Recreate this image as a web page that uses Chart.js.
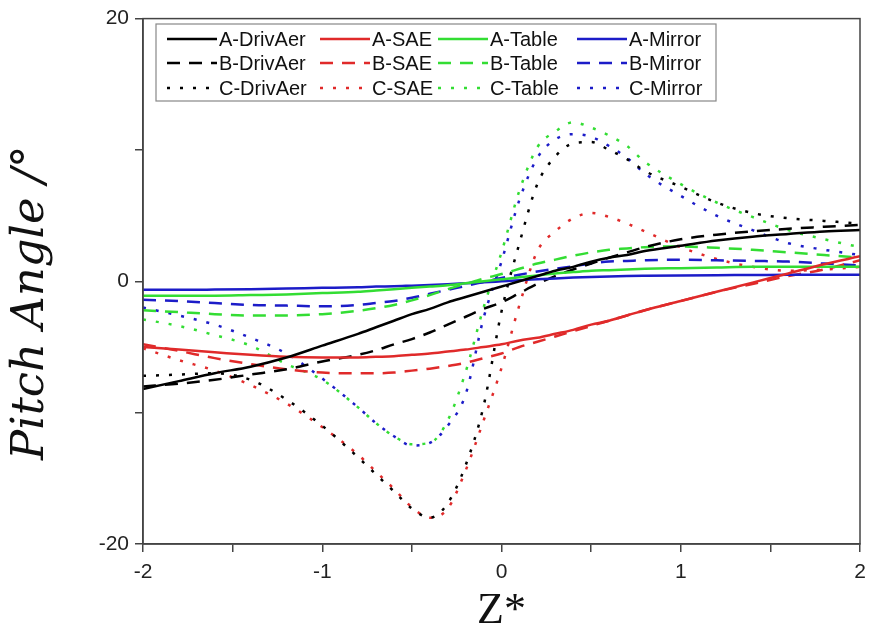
<!DOCTYPE html>
<html>
<head>
<meta charset="utf-8">
<script src="https://cdn.jsdelivr.net/npm/chart.js@4.4.0/dist/chart.umd.min.js"></script>
<style>
  body { margin: 0; background: #fff; }
  #wrap { width: 874px; height: 641px; }
</style>
</head>
<body>
<div id="wrap"><canvas id="pitchChart"></canvas></div>
<script>
// z* positions (shared by all series)
const zStar = [-2, -1.8, -1.6, -1.4, -1.2, -1, -0.8, -0.7, -0.6, -0.5, -0.4, -0.3, -0.2, -0.1, 0,
               0.1, 0.2, 0.3, 0.4, 0.5, 0.6, 0.7, 0.8, 1, 1.2, 1.4, 1.6, 1.8, 2];

// pitch angle, case A (solid)
const aDrivAer = [-8.2, -7.6, -7.0, -6.5, -5.8, -4.9, -4.0, -3.5, -3.0, -2.5, -2.1, -1.6, -1.2, -0.8, -0.4,
                  0.0, 0.4, 0.8, 1.1, 1.5, 1.8, 2.0, 2.3, 2.7, 3.1, 3.4, 3.6, 3.8, 3.9];
const aSAE     = [-5.0, -5.2, -5.4, -5.6, -5.75, -5.8, -5.8, -5.75, -5.7, -5.6, -5.5, -5.35, -5.2, -5.0, -4.8,
                  -4.5, -4.3, -4.0, -3.7, -3.3, -3.0, -2.6, -2.2, -1.5, -0.8, -0.1, 0.6, 1.3, 1.9];
const aTable   = [-1.1, -1.1, -1.1, -1.05, -1.0, -0.9, -0.8, -0.7, -0.6, -0.5, -0.4, -0.3, -0.15, 0.0, 0.15,
                  0.3, 0.45, 0.6, 0.7, 0.8, 0.85, 0.9, 0.95, 1.0, 1.05, 1.1, 1.1, 1.1, 1.1];
const aMirror  = [-0.65, -0.65, -0.63, -0.6, -0.55, -0.5, -0.45, -0.4, -0.38, -0.33, -0.28, -0.22, -0.15, -0.08, 0.0,
                  0.08, 0.15, 0.22, 0.28, 0.33, 0.37, 0.4, 0.42, 0.45, 0.47, 0.48, 0.5, 0.5, 0.5];

// case B (dashed)
const bDrivAer = [-8.0, -7.8, -7.5, -7.1, -6.7, -6.1, -5.6, -5.25, -4.8, -4.4, -3.9, -3.3, -2.7, -2.1, -1.6,
                  -0.9, -0.2, 0.4, 0.9, 1.35, 1.8, 2.2, 2.6, 3.2, 3.55, 3.8, 4.0, 4.15, 4.3];
const bSAE     = [-4.8, -5.3, -5.85, -6.3, -6.7, -6.95, -7.0, -7.0, -6.95, -6.8, -6.65, -6.45, -6.2, -5.85, -5.5,
                  -5.0, -4.6, -4.2, -3.8, -3.4, -3.0, -2.6, -2.2, -1.5, -0.8, -0.2, 0.4, 0.9, 1.6];
const bTable   = [-2.2, -2.35, -2.5, -2.6, -2.6, -2.5, -2.25, -2.05, -1.8, -1.45, -1.05, -0.6, -0.2, 0.2, 0.55,
                  0.95, 1.35, 1.65, 1.95, 2.2, 2.4, 2.5, 2.6, 2.65, 2.55, 2.4, 2.2, 2.0, 1.8];
const bMirror  = [-1.4, -1.5, -1.65, -1.8, -1.85, -1.9, -1.8, -1.65, -1.5, -1.25, -0.95, -0.65, -0.35, -0.05, 0.25,
                  0.5, 0.75, 0.95, 1.15, 1.35, 1.5, 1.55, 1.6, 1.65, 1.6, 1.55, 1.5, 1.35, 1.2];

// case C (dotted)
const cDrivAer = [-7.2, -7.1, -7.0, -7.5, -9.0, -11.0, -13.4, -14.7, -16.0, -17.3, -18.0, -16.9, -14.0, -9.5, -2.3,
                  2.9, 7.4, 9.5, 10.5, 10.6, 10.0, 9.3, 8.4, 7.2, 6.0, 5.2, 4.8, 4.6, 4.4];
const cSAE     = [-5.1, -6.0, -6.8, -7.9, -9.3, -11.1, -13.2, -14.5, -15.8, -17.2, -18.0, -17.3, -14.4, -10.6, -6.6,
                  -1.8, 2.3, 3.8, 4.8, 5.2, 4.9, 4.4, 3.8, 2.6, 1.7, 1.1, 0.8, 0.9, 1.1];
const cTable   = [-2.9, -3.4, -4.1, -4.9, -6.3, -7.5, -9.6, -10.8, -11.8, -12.4, -12.3, -10.6, -6.9, -2.0, 2.2,
                  6.9, 10.2, 11.4, 12.1, 11.7, 11.1, 10.3, 9.1, 7.4, 6.0, 4.9, 3.9, 3.2, 2.6];
const cMirror  = [-2.0, -2.6, -3.3, -4.3, -5.5, -7.4, -9.6, -10.8, -11.8, -12.5, -12.3, -11.0, -8.6, -2.8, 1.5,
                  6.2, 9.4, 10.8, 11.2, 11.0, 10.3, 9.4, 8.2, 6.5, 5.0, 3.9, 2.9, 2.4, 2.0];

const seriesNames = ['A-DrivAer', 'A-SAE', 'A-Table', 'A-Mirror',
                     'B-DrivAer', 'B-SAE', 'B-Table', 'B-Mirror',
                     'C-DrivAer', 'C-SAE', 'C-Table', 'C-Mirror'];
const seriesValues = [aDrivAer, aSAE, aTable, aMirror, bDrivAer, bSAE, bTable, bMirror, cDrivAer, cSAE, cTable, cMirror];

const lineColors = ['#000000', '#e02a2a', '#33dd33', '#1c1cc8'];
const dashStyles = [[], [13, 9], [3, 10]];

// build datasets
const datasets = [];
for (let i = 0; i < seriesNames.length; i++) {
    const vals = seriesValues[i];
    datasets.push({
        label: seriesNames[i],
        data: zStar.map((z, k) => ({x: z, y: vals[k]})),
        borderColor: lineColors[i % 4],
        borderDash: dashStyles[Math.floor(i / 4)],
        borderWidth: 2.5,
        pointRadius: 0,
        fill: false,
        cubicInterpolationMode: 'monotone'
    });
}

// box around the plot
const framePlugin = {
    id: 'frame',
    afterDraw(chart) {
        const a = chart.chartArea;
        const ctx = chart.ctx;
        ctx.save();
        ctx.strokeStyle = '#444';
        ctx.lineWidth = 1.5;
        ctx.strokeRect(a.left, a.top, a.right - a.left, a.bottom - a.top);
        ctx.restore();
    }
};

// legend in 3 rows x 4 columns inside the plot
const legendPlugin = {
    id: 'gridLegend',
    afterDatasetsDraw(chart) {
        const ctx = chart.ctx;
        const colX = [167, 320, 438, 577];
        const rowY = [39, 63, 88];
        ctx.save();
        ctx.fillStyle = '#fff';
        ctx.fillRect(156, 24, 560, 77);
        ctx.strokeStyle = '#888';
        ctx.lineWidth = 1.2;
        ctx.strokeRect(156, 24, 560, 77);
        ctx.font = '20px "Liberation Sans", Arial, sans-serif';
        ctx.textBaseline = 'middle';
        chart.data.datasets.forEach((ds, i) => {
            const col = i % 4, row = Math.floor(i / 4);
            const x = colX[col], y = rowY[row];
            ctx.beginPath();
            ctx.setLineDash(ds.borderDash);
            ctx.strokeStyle = ds.borderColor;
            ctx.lineWidth = 2.5;
            ctx.moveTo(x, y);
            ctx.lineTo(x + 50, y);
            ctx.stroke();
            ctx.setLineDash([]);
            ctx.fillStyle = '#111';
            ctx.fillText(ds.label, x + 52, y + 1);
        });
        ctx.restore();
    }
};

new Chart(document.getElementById('pitchChart'), {
    type: 'line',
    data: {datasets: datasets},
    options: {
        responsive: true,
        maintainAspectRatio: false,
        animation: false,
        layout: {padding: {top: 13, right: 14, left: 0, bottom: 0}},
        plugins: {
            legend: {display: false},
            tooltip: {enabled: false}
        },
        scales: {
            x: {
                type: 'linear',
                min: -2,
                max: 2,
                afterFit: (s) => { s.height = 97; },
                ticks: {
                    stepSize: 0.5,
                    autoSkip: false,
                    maxRotation: 0,
                    padding: 8,
                    color: '#222',
                    font: {family: '"Liberation Sans", Arial, sans-serif', size: 21},
                    callback: (v) => Number.isInteger(v) ? String(v) : ''
                },
                grid: {drawOnChartArea: false, tickLength: 8, color: '#444', lineWidth: 1.5},
                border: {color: '#444', width: 1.5},
                title: {
                    display: true,
                    text: 'Z*',
                    color: '#111',
                    font: {family: '"Liberation Serif", "Times New Roman", serif', size: 44},
                    padding: {top: 0, bottom: 3}
                }
            },
            y: {
                min: -20,
                max: 20,
                afterFit: (s) => { s.width = 143; },
                ticks: {
                    stepSize: 10,
                    padding: 6,
                    color: '#222',
                    font: {family: '"Liberation Sans", Arial, sans-serif', size: 21},
                    callback: (v) => (v % 20 === 0) ? String(v) : ''
                },
                grid: {drawOnChartArea: false, tickLength: 8, color: '#444', lineWidth: 1.5},
                border: {color: '#444', width: 1.5},
                title: {
                    display: true,
                    // trailing spaces push the visible text a little lower, like the original
                    text: 'Pitch Angle /°\u00a0\u00a0\u00a0',
                    color: '#111',
                    font: {family: '"DejaVu Serif", serif', size: 45, style: 'italic'},
                    padding: {top: 4, bottom: 0}
                }
            }
        }
    },
    plugins: [framePlugin, legendPlugin]
});
</script>
</body>
</html>
